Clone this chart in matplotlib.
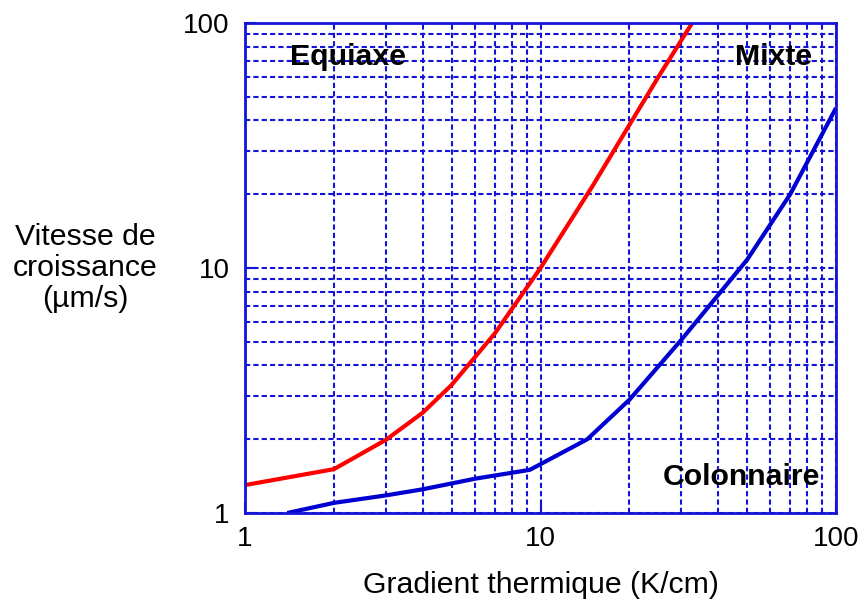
import matplotlib
matplotlib.use("Agg")
import matplotlib.pyplot as plt
from matplotlib.ticker import LogLocator, NullFormatter, FixedLocator, FixedFormatter

# Data
red_x = [1, 2, 3, 4, 5, 7, 10, 15, 20, 25, 32.6]
red_y = [1.30, 1.51, 1.99, 2.57, 3.33, 5.4, 10.0, 21.6, 38.4, 60, 100]
blue_x = [1.39, 2, 3, 4, 6, 9.2, 14.4, 20, 30, 50, 70, 100]
blue_y = [1.0, 1.10, 1.18, 1.25, 1.38, 1.5, 2.0, 2.9, 5.1, 10.8, 20, 45]
ticks = [1, 10, 100]
tick_labels = ["1", "10", "100"]
region_labels = ["Equiaxe", "Mixte", "Colonnaire"]

BLUE = "#1414d8"
plt.rcParams['font.family'] = ['Liberation Sans', 'DejaVu Sans']

fig = plt.figure(figsize=(8.65, 6.04), dpi=100)
ax = fig.add_axes([245/865, 1-513/604, (836-245)/865, (513-23)/604])
ax.set_xscale('log')
ax.set_yscale('log')
ax.set_xlim(1, 100)
ax.set_ylim(1, 100)

ax.xaxis.set_major_locator(FixedLocator(ticks))
ax.yaxis.set_major_locator(FixedLocator(ticks))
ax.xaxis.set_major_formatter(FixedFormatter(tick_labels))
ax.yaxis.set_major_formatter(FixedFormatter(tick_labels))
ax.xaxis.set_minor_locator(LogLocator(base=10, subs=range(2, 10)))
ax.yaxis.set_minor_locator(LogLocator(base=10, subs=range(2, 10)))
ax.xaxis.set_minor_formatter(NullFormatter())
ax.yaxis.set_minor_formatter(NullFormatter())

ax.grid(True, which='both', color=BLUE, linestyle=(0, (2.5, 1.5)), linewidth=1.5)
ax.set_axisbelow(True)
for s in ax.spines.values():
    s.set_color(BLUE)
    s.set_linewidth(2.0)
ax.tick_params(which='major', direction='in', length=8, width=1.5, color=BLUE,
               labelsize=20, labelcolor='black')
ax.tick_params(axis='y', which='major', pad=11)
ax.tick_params(axis='x', which='major', pad=9)
ax.tick_params(which='minor', direction='in', length=2, width=1.2, color=BLUE)

ax.plot(red_x, red_y, color='#ff0000', linewidth=3.0, solid_capstyle='butt', clip_on=True)
ax.plot(blue_x, blue_y, color='#0000d0', linewidth=3.0, solid_capstyle='butt', clip_on=True)

def px2data(px, py):
    return ax.transData.inverted().transform(
        fig.transFigure.transform((px/865, 1-py/604)))

fs = 21.8
x, y = px2data(290, 65)
ax.text(x, y, region_labels[0], fontsize=fs, fontweight='bold', ha='left', va='baseline')
x, y = px2data(812, 65)
ax.text(x, y, region_labels[1], fontsize=fs, fontweight='bold', ha='right', va='baseline')
x, y = px2data(820, 485)
ax.text(x, y, region_labels[2], fontsize=fs, fontweight='bold', ha='right', va='baseline')

fig.text(541/865, 1-585/604, "Gradient thermique (K/cm)", fontsize=21.8,
         ha='center', va='center')
fig.text(85/865, 1-268/604, "Vitesse de\ncroissance\n(µm/s)", fontsize=21.8,
         ha='center', va='center', linespacing=1.15)

fig.savefig("out.png", dpi=100)
